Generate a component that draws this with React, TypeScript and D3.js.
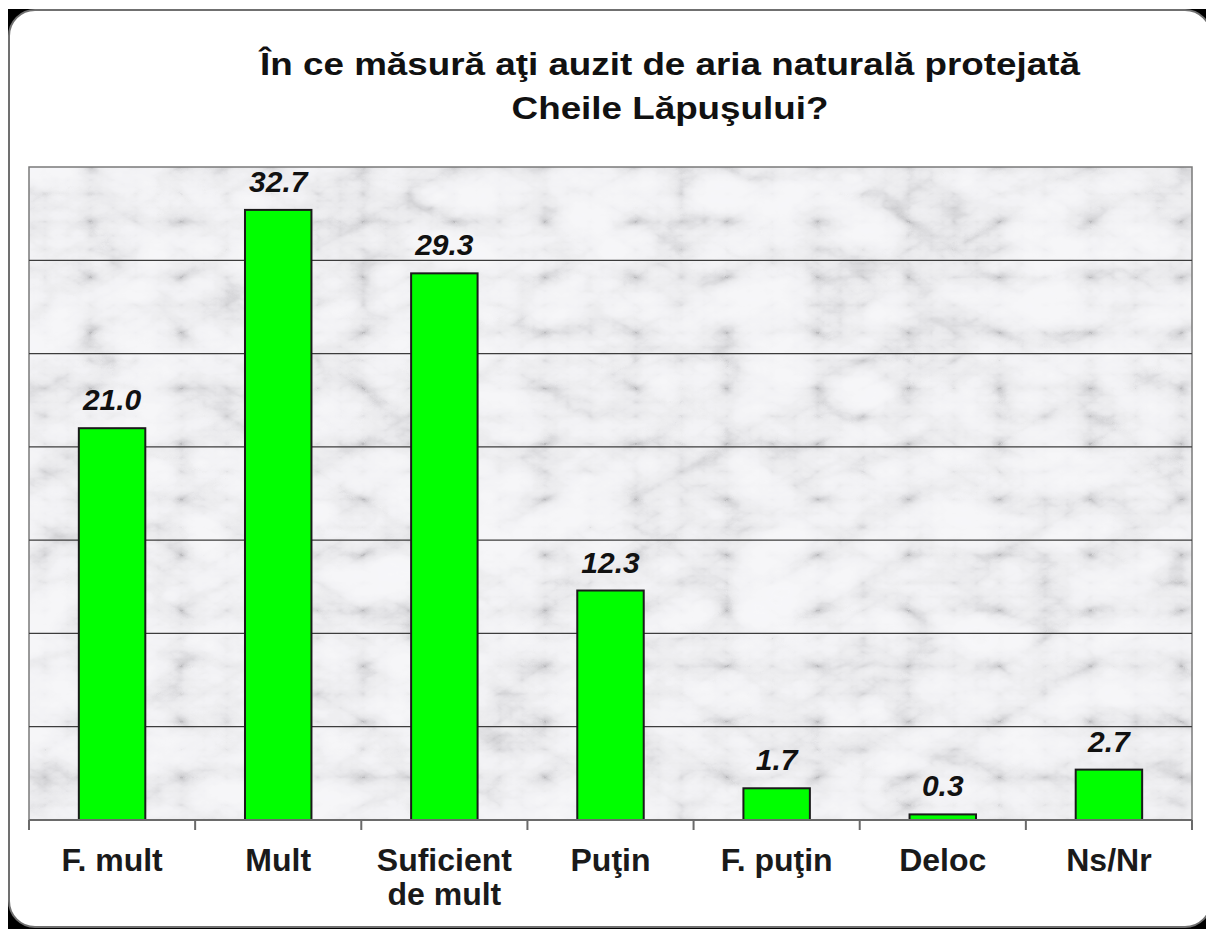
import React from "react";
import * as d3 from "d3";

const categories: string[][] = [
  ["F. mult"],
  ["Mult"],
  ["Suficient", "de mult"],
  ["Puţin"],
  ["F. puţin"],
  ["Deloc"],
  ["Ns/Nr"],
];
const values: number[] = [21.0, 32.7, 29.3, 12.3, 1.7, 0.3, 2.7];
const yTicks: number[] = [0, 5, 10, 15, 20, 25, 30, 35];
const titleLines: string[] = [
  "În ce măsură aţi auzit de aria naturală protejată",
  "Cheile Lăpuşului?",
];

const W = 1206;
const H = 929;
const plot = { left: 29, right: 1192, top: 167, bottom: 820 };
const FONT = "'Liberation Sans', Arial, sans-serif";

export default function App() {
  const keys = categories.map((c) => c.join(" "));
  const x = d3
    .scaleBand<string>()
    .domain(keys)
    .range([plot.left, plot.right])
    .paddingInner(0.6)
    .paddingOuter(0.3);
  const y = d3.scaleLinear().domain([0, 35]).range([plot.bottom, plot.top]);
  const step = x.step();
  const boundaries = d3.range(categories.length + 1).map((i) => plot.left + i * step);

  return (
    <svg
      width={W}
      height={H}
      style={{ position: "absolute", left: 0, top: 0, display: "block" }}
    >
      <defs>
        <filter id="marble" x="0" y="0" width="100%" height="100%" filterUnits="userSpaceOnUse">
          <feTurbulence
            type="turbulence"
            baseFrequency="0.011 0.018"
            numOctaves={5}
            seed={11}
            result="t"
          />
          <feColorMatrix
            in="t"
            type="matrix"
            values="0.33 0.33 0.33 0 0  0.33 0.33 0.33 0 0  0.33 0.33 0.33 0 0  0 0 0 0 1"
            result="g"
          />
          <feComponentTransfer in="g" result="v">
            <feFuncR type="table" tableValues="0.5 0.68 0.82 0.89 0.92 0.93 0.9 0.84 0.78" />
            <feFuncG type="table" tableValues="0.5 0.68 0.82 0.89 0.92 0.93 0.9 0.84 0.78" />
            <feFuncB type="table" tableValues="0.52 0.7 0.84 0.91 0.94 0.95 0.92 0.86 0.8" />
          </feComponentTransfer>
          <feGaussianBlur in="v" stdDeviation="0.5" />
        </filter>
        <clipPath id="plotClip">
          <rect x={plot.left} y={plot.top} width={plot.right - plot.left} height={plot.bottom - plot.top} />
        </clipPath>
      </defs>

      {/* page with black corners behind a rounded white panel */}
      <rect x={0} y={0} width={W} height={H} fill="#ffffff" />
      <rect x={8} y={9} width={W - 8} height={H - 9} fill="#000000" />
      <rect
        x={9}
        y={10}
        width={1202}
        height={917}
        rx={26}
        ry={26}
        fill="#ffffff"
        stroke="#707070"
        strokeWidth={2}
      />

      {/* title */}
      {titleLines.map((t, i) => (
        <text
          key={i}
          transform={`translate(670, ${75 + i * 44}) scale(1.15, 1)`}
          textAnchor="middle"
          fontFamily={FONT}
          fontWeight="bold"
          fontSize={32}
          fill="#111"
        >
          {t}
        </text>
      ))}

      {/* plot background */}
      <g clipPath="url(#plotClip)">
        <rect
          x={plot.left}
          y={plot.top}
          width={plot.right - plot.left}
          height={plot.bottom - plot.top}
          fill="#e0e0e0"
          filter="url(#marble)"
        />
      </g>
      <rect
        x={plot.left}
        y={plot.top}
        width={plot.right - plot.left}
        height={plot.bottom - plot.top}
        fill="none"
        stroke="#7a7a7a"
        strokeWidth={1.5}
      />

      {/* gridlines */}
      {yTicks.slice(1, -1).map((t) => (
        <line
          key={t}
          x1={plot.left}
          x2={plot.right}
          y1={y(t)}
          y2={y(t)}
          stroke="#3c3c3c"
          strokeWidth={1.3}
        />
      ))}

      {/* bars */}
      {values.map((v, i) => (
        <rect
          key={keys[i]}
          x={x(keys[i])!}
          y={y(v)}
          width={x.bandwidth()}
          height={y(0) - y(v)}
          fill="#00ff00"
          stroke="#1a1a1a"
          strokeWidth={2}
        />
      ))}

      {/* value labels */}
      {values.map((v, i) => (
        <text
          key={"v" + i}
          x={x(keys[i])! + x.bandwidth() / 2}
          y={y(v) - 18}
          textAnchor="middle"
          fontFamily={FONT}
          fontWeight="bold"
          fontStyle="italic"
          fontSize={30}
          fill="#111"
        >
          {v.toFixed(1)}
        </text>
      ))}

      {/* x axis */}
      <line x1={plot.left} x2={plot.right} y1={plot.bottom} y2={plot.bottom} stroke="#6a6a6a" strokeWidth={2} />
      {boundaries.map((bx, i) => (
        <line key={"t" + i} x1={bx} x2={bx} y1={plot.bottom} y2={plot.bottom + 10} stroke="#6a6a6a" strokeWidth={2} />
      ))}

      {/* category labels */}
      {categories.map((lines, i) => (
        <text
          key={"c" + i}
          textAnchor="middle"
          fontFamily={FONT}
          fontWeight="bold"
          fontSize={32}
          fill="#1a1a1a"
        >
          {lines.map((l, j) => (
            <tspan key={j} x={x(keys[i])! + x.bandwidth() / 2} y={871 + j * 34}>
              {l}
            </tspan>
          ))}
        </text>
      ))}
    </svg>
  );
}
